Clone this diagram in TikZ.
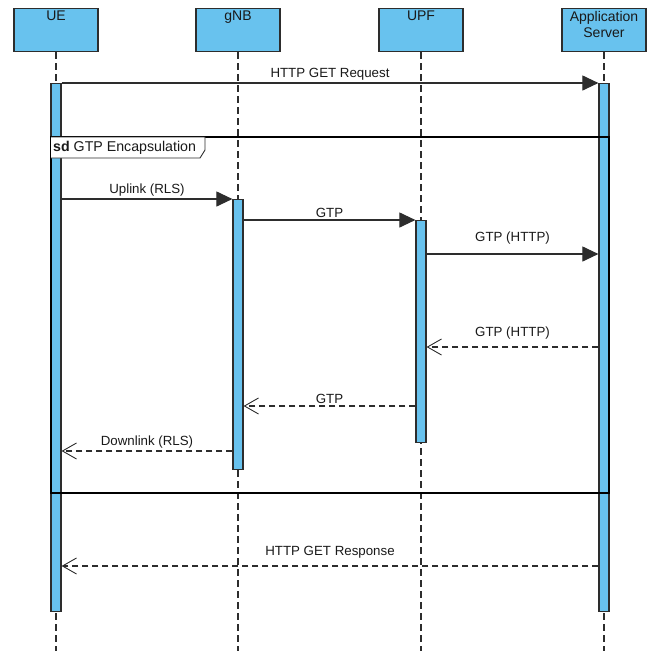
\documentclass[tikz,border=0pt]{standalone}
\usepackage{fontspec}
\setmainfont{Liberation Sans}
\usetikzlibrary{arrows.meta}

\definecolor{lifeblue}{RGB}{104,194,238}
\definecolor{linegray}{RGB}{45,45,45}

\tikzset{
    head/.style={draw=linegray, fill=lifeblue, line width=1.2pt, minimum width=84pt, minimum height=43pt, anchor=north, inner sep=0pt},
    headtxt/.style={anchor=north, align=center, font=\fontsize{14}{16}\selectfont, text=black!90, inner sep=3pt},
    life/.style={draw=linegray, line width=1.3pt, dash pattern=on 7pt off 4pt},
    act/.style={draw=linegray, fill=lifeblue, line width=1.2pt, minimum width=10pt, anchor=north, inner sep=0pt},
    sync/.style={draw=linegray, line width=1.1pt, -{Triangle[length=16pt,width=15pt]}},
    reply/.style={draw=linegray, line width=1.1pt, dash pattern=on 6pt off 4pt, -{Straight Barb[length=14pt,width=16pt,line width=0.9pt]}},
    msg/.style={midway, above, font=\fontsize{13.3}{15}\selectfont, text=black!90, inner sep=2pt},
}

\begin{document}
\begin{tikzpicture}[x=1pt, y=-1pt]
    \useasboundingbox (0,0) rectangle (650,651);

    % header boxes
    \node[head] (UE)  at (56,8)  {};
    \node[head] (gNB) at (238,8) {};
    \node[head] (UPF) at (421,8) {};
    \node[head] (AS)  at (604,8) {};
    \node[headtxt] (UEt)  at (UE.north)  {UE};
    \node[headtxt] (gNBt) at (gNB.north) {gNB};
    \node[headtxt] (UPFt) at (UPF.north) {UPF};
    \node[headtxt] (ASt)  at (AS.north)  {Application\\Server};

    % lifelines
    \coordinate (UEend)  at (56,651);
    \coordinate (gNBend) at (238,651);
    \coordinate (UPFend) at (421,651);
    \coordinate (ASend)  at (604,651);
    \draw[life] (UE.south)  -- (UEend);
    \draw[life] (gNB.south) -- (gNBend);
    \draw[life] (UPF.south) -- (UPFend);
    \draw[life] (AS.south)  -- (ASend);

    % activations
    \node[act, minimum height=528pt] (aUE)  at (56,83)  {};
    \node[act, minimum height=528pt] (aAS)  at (604,83) {};
    \node[act, minimum height=270pt] (agNB) at (238,199) {};
    \node[act, minimum height=222pt] (aUPF) at (421,220) {};

    % sd frame
    \coordinate (frTL) at (51,137);
    \coordinate (frBR) at (609,493);
    \draw[black, line width=1.2pt] (frTL) rectangle (frBR);
    \draw[linegray, line width=0.9pt, fill=white] (frTL) -- (205,137) -- (205,150) -- (200,158) -- (51,158);
    \node[anchor=west, font=\fontsize{14.2}{16}\selectfont, text=black!90, inner sep=1pt] (sdlab) at (52,147.5) {\textbf{sd} GTP Encapsulation};

    % messages
    \draw[sync]  (aUE.east |- 0,83)   -- (aAS.west |- 0,83)   node[msg] {HTTP GET Request};
    \draw[sync]  (aUE.east |- 0,199)  -- (agNB.west |- 0,199) node[msg] {Uplink (RLS)};
    \draw[sync]  (agNB.east |- 0,220) -- (aUPF.west |- 0,220) node[msg] {GTP};
    \draw[sync]  (aUPF.east |- 0,254) -- (aAS.west |- 0,254)  node[msg, yshift=7pt] {GTP (HTTP)};
    \draw[reply] (aAS.west |- 0,347)  -- (aUPF.east |- 0,347) node[msg, yshift=5pt] {GTP (HTTP)};
    \draw[reply] (aUPF.west |- 0,406) -- (agNB.east |- 0,406) node[msg] {GTP};
    \draw[reply] (agNB.west |- 0,451) -- (aUE.east |- 0,451)  node[msg] {Downlink (RLS)};
    \draw[reply] (aAS.west |- 0,566)  -- (aUE.east |- 0,566)  node[msg, yshift=5pt] {HTTP GET Response};
\end{tikzpicture}
\end{document}
